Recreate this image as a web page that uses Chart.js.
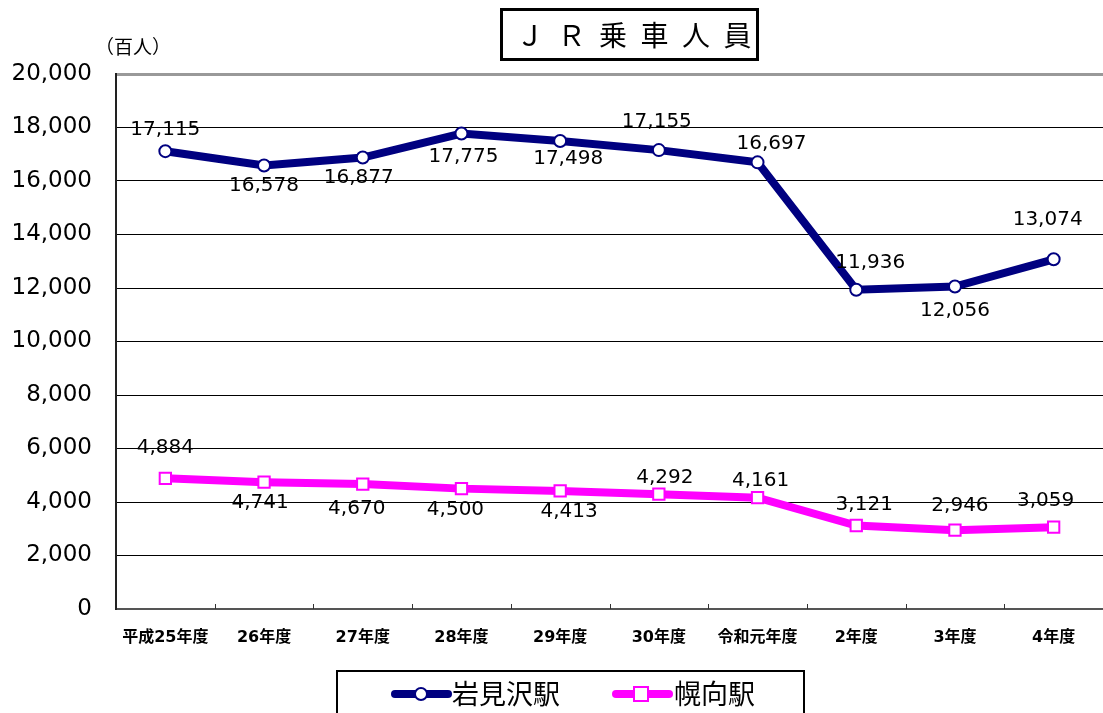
<!DOCTYPE html>
<html>
<head>
<meta charset="utf-8">
<script src="https://cdn.jsdelivr.net/npm/chart.js@4"></script>
<style>
  body { margin: 0; background: #fff; }
  #wrap { width: 1103px; height: 713px; }
</style>
</head>
<body>
<div id="wrap"><canvas id="jrChart" width="1103" height="713"></canvas></div>
<script>
// data
const years = ["平成25年度", "26年度", "27年度", "28年度", "29年度", "30年度", "令和元年度", "2年度", "3年度", "4年度"];
const iwamizawa = [17115, 16578, 16877, 17775, 17498, 17155, 16697, 11936, 12056, 13074];
const horomui = [4884, 4741, 4670, 4500, 4413, 4292, 4161, 3121, 2946, 3059];
const yTicks = [0, 2000, 4000, 6000, 8000, 10000, 12000, 14000, 16000, 18000, 20000];

// label nudges relative to each point (px)
const iwaLabelDx = [0, 0, -4, 2, 8, -2, 14, 14, 0, -6];
const iwaLabelDy = [-21, 20, 20, 23, 18, -28, -19, -27, 24, -39];
const horoLabelDx = [0, -4, -6, -6, 9, 6, 3, 8, 5, -8];
const horoLabelDy = [-31, 21, 25, 21, 21, -16, -17, -21, -24, -26];

const NAVY = "#000080";
const PINK = "#ff00ff";
const FONT = "'Noto Sans CJK JP', 'DejaVu Sans', sans-serif";
const NUMFONT = "DejaVu Sans";

function fmt(v) {
  return v.toLocaleString("en-US");
}

const decorPlugin = {
  id: "decor",
  afterDatasetsDraw(chart) {
    const ctx = chart.ctx;
    const x = chart.scales.x;
    const y = chart.scales.y;
    const area = chart.chartArea;

    // little category ticks pointing up
    ctx.save();
    ctx.strokeStyle = "#333";
    ctx.lineWidth = 1;
    const step = x.getPixelForValue(1) - x.getPixelForValue(0);
    for (let i = 1; i < years.length; i++) {
      const px = Math.round(x.getPixelForValue(i) - step / 2) + 0.5;
      ctx.beginPath();
      ctx.moveTo(px, area.bottom);
      ctx.lineTo(px, area.bottom - 5);
      ctx.stroke();
    }
    ctx.restore();

    // value labels
    ctx.save();
    ctx.font = "20px " + NUMFONT;
    ctx.fillStyle = "#000";
    ctx.textAlign = "center";
    ctx.textBaseline = "middle";
    const drawLabels = (vals, dx, dy) => {
      vals.forEach((v, i) => {
        const px = x.getPixelForValue(i);
        const py = y.getPixelForValue(v);
        ctx.fillText(fmt(v), px + dx[i], py + dy[i]);
      });
    };
    drawLabels(iwamizawa, iwaLabelDx, iwaLabelDy);
    drawLabels(horomui, horoLabelDx, horoLabelDy);
    ctx.restore();
  },
  afterDraw(chart) {
    const ctx = chart.ctx;

    // title box
    ctx.save();
    ctx.fillStyle = "#fff";
    ctx.fillRect(501, 9, 256, 50);
    ctx.strokeStyle = "#000";
    ctx.lineWidth = 3;
    ctx.strokeRect(501.5, 9.5, 256, 50);
    ctx.font = "28px " + FONT;
    ctx.fillStyle = "#000";
    ctx.textAlign = "center";
    ctx.textBaseline = "middle";
    const title = ["Ｊ", "Ｒ", "乗", "車", "人", "員"];
    title.forEach((ch, i) => ctx.fillText(ch, 530 + i * 41.5, 35));

    // unit label
    ctx.font = "19px " + FONT;
    ctx.textAlign = "left";
    ctx.fillText("（百人）", 95, 47);

    // legend box
    ctx.lineWidth = 2;
    ctx.strokeRect(337, 671, 467, 60);
    ctx.font = "27px " + FONT;
    ctx.textBaseline = "middle";
    const ly = 694;
    // navy entry
    ctx.strokeStyle = NAVY;
    ctx.lineWidth = 8;
    ctx.lineCap = "round";
    ctx.beginPath();
    ctx.moveTo(395, ly);
    ctx.lineTo(448, ly);
    ctx.stroke();
    ctx.lineWidth = 2;
    ctx.fillStyle = "#fff";
    ctx.beginPath();
    ctx.arc(421, ly, 6, 0, Math.PI * 2);
    ctx.fill();
    ctx.stroke();
    ctx.fillStyle = "#000";
    ctx.fillText("岩見沢駅", 452, ly);
    // pink entry
    ctx.strokeStyle = PINK;
    ctx.lineWidth = 8;
    ctx.beginPath();
    ctx.moveTo(616, ly);
    ctx.lineTo(669, ly);
    ctx.stroke();
    ctx.lineWidth = 2;
    ctx.fillStyle = "#fff";
    ctx.fillRect(634, ly - 7, 14, 14);
    ctx.strokeRect(634, ly - 7, 14, 14);
    ctx.fillStyle = "#000";
    ctx.fillText("幌向駅", 674, ly);
    ctx.restore();
  }
};

new Chart(document.getElementById("jrChart"), {
  type: "line",
  data: {
    labels: years,
    datasets: [
      {
        label: "岩見沢駅",
        data: iwamizawa,
        borderColor: NAVY,
        borderWidth: 8,
        pointStyle: "circle",
        pointRadius: 6,
        pointBorderWidth: 2,
        pointBorderColor: NAVY,
        pointBackgroundColor: "#fff",
        tension: 0
      },
      {
        label: "幌向駅",
        data: horomui,
        borderColor: PINK,
        borderWidth: 8,
        pointStyle: "rect",
        pointRadius: 8,
        pointBorderWidth: 2,
        pointBorderColor: PINK,
        pointBackgroundColor: "#fff",
        tension: 0
      }
    ]
  },
  options: {
    responsive: false,
    animation: false,
    devicePixelRatio: 1,
    layout: { autoPadding: false, padding: { top: 74, right: 0, left: 0, bottom: 0 } },
    plugins: {
      legend: { display: false },
      title: { display: false },
      tooltip: { enabled: false }
    },
    scales: {
      x: {
        offset: true,
        grid: { display: false, offset: true },
        border: { display: true, color: "#555", width: 2 },
        ticks: {
          color: "#000",
          font: { family: "'DejaVu Sans', 'Noto Sans CJK JP', sans-serif", size: 16, weight: "bold" },
          padding: 11,
          maxRotation: 0,
          autoSkip: false
        },
        afterFit(scale) { scale.height = 104; }
      },
      y: {
        min: 0,
        max: 20000,
        afterBuildTicks(scale) {
          scale.ticks = yTicks.map(v => ({ value: v }));
        },
        grid: {
          color: ctx => (ctx.tick && ctx.tick.value === 20000 ? "#999" : "#000"),
          lineWidth: ctx => (ctx.tick && ctx.tick.value === 20000 ? 3 : 1),
          drawTicks: false
        },
        border: { display: true, color: "#222", width: 2 },
        ticks: {
          color: "#000",
          font: { family: NUMFONT, size: 23 },
          padding: 24,
          callback: v => fmt(v)
        },
        afterFit(scale) { scale.width = 116; }
      }
    }
  },
  plugins: [decorPlugin]
});
</script>
</body>
</html>
